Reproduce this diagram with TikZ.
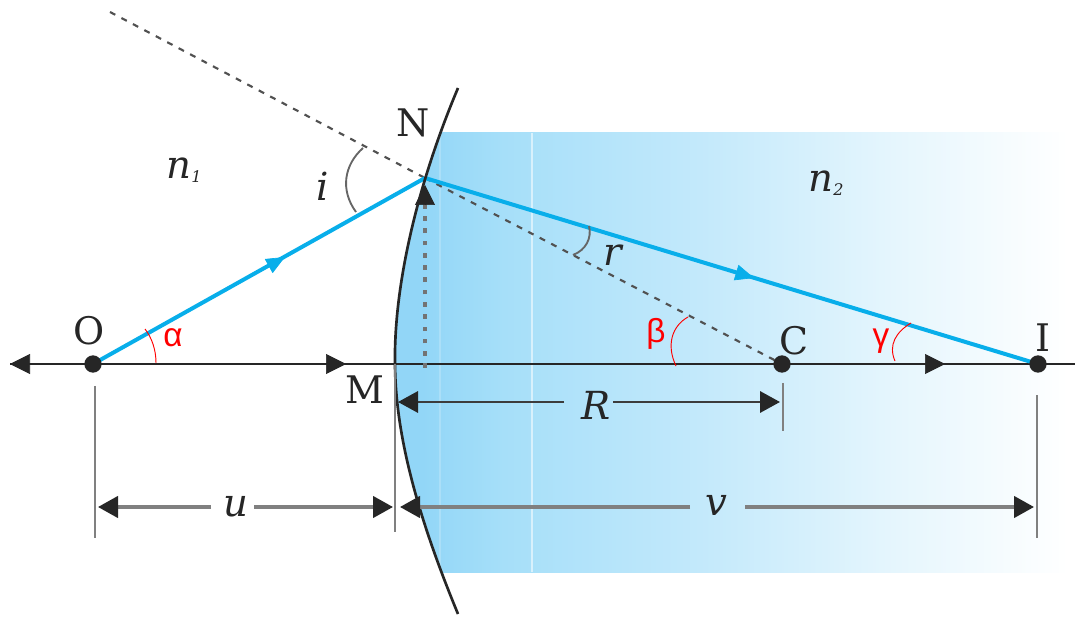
\documentclass[tikz,border=0pt]{standalone}
\usepackage{fontspec}
\usetikzlibrary{arrows.meta}
\newfontfamily\redfont{Liberation Sans}
\newfontfamily\labfont{DejaVu Serif}
\definecolor{raycol}{HTML}{08AEEA}
\definecolor{inkcol}{HTML}{262626}
\definecolor{dimcol}{HTML}{808080}
\definecolor{lensA}{HTML}{92D6F7}
\definecolor{lensB}{HTML}{A6DFF9}
\definecolor{lensC}{HTML}{C3E9FB}
\definecolor{lensD}{HTML}{E6F6FD}
\pgfdeclarehorizontalshading{lensgrad}{100bp}{
 color(0bp)=(lensA); color(25bp)=(lensA); color(27bp)=(lensA);
 color(33bp)=(lensB); color(47.4bp)=(lensC); color(62bp)=(lensD);
 color(74.5bp)=(white); color(100bp)=(white)}
\tikzset{
 axisline/.style={draw=inkcol,line width=1.9pt},
 tipped/.style={draw=inkcol,line width=.5pt,-{Triangle[length=15pt,width=15pt,color=inkcol,fill=inkcol]}},
 dimline/.style={draw=dimcol,line width=2.5pt,-{Triangle[length=15pt,width=16pt,color=inkcol,fill=inkcol]}},
 rline/.style={draw=inkcol!90,line width=1.7pt,-{Triangle[length=15pt,width=16pt,color=inkcol,fill=inkcol]}},
 ext/.style={draw=dimcol,line width=1.6pt},
 ray/.style={draw=raycol,line width=3pt},
 raytip/.style={draw=raycol,line width=.5pt,-{Triangle[length=14pt,width=12pt,color=raycol,fill=raycol]}},
 dashline/.style={draw=inkcol!80,line width=1.6pt,dash pattern=on 4.5pt off 5.2pt},
 dotline/.style={draw=dimcol!90!black,line width=3.5pt,dash pattern=on 3.5pt off 5.7pt},
 lensline/.style={draw=inkcol,line width=2pt},
 dot/.style={circle,fill=inkcol,inner sep=0pt,minimum size=13pt},
 pt/.style={inner sep=0pt,text=inkcol,font=\labfont\fontsize{28.5}{30}\selectfont},
 var/.style={inner sep=0pt,text=inkcol,font=\labfont\fontsize{29}{30}\selectfont\itshape},
 redlab/.style={inner sep=0pt,text=red,font=\redfont\fontsize{25}{25}\selectfont},
 redarc/.style={draw=red,line width=.7pt},
 grayarc/.style={draw=dimcol!80!black,line width=1.4pt},
}
\begin{document}
\begin{tikzpicture}[x=0.75pt,y=-0.75pt]
\useasboundingbox (0,0) rectangle (1075,627);
% medium
\begin{scope}
\clip (458,88) .. controls (415,190) and (394,290) .. (395,362) .. controls (395,430) and (415,510) .. (458,614) -- (1075,614) -- (1075,88) -- cycle;
\shade[shading=lensgrad] (395,133) rectangle (1075,572);
\draw[white,opacity=.55,line width=1.3pt] (532,133) -- (532,572);
\draw[white,opacity=.2,line width=1pt] (440,133) -- (440,572);
\end{scope}
\coordinate (O) at (93,364);
\coordinate (N) at (425,178);
\coordinate (C) at (782,364);
\coordinate (I) at (1038,364);
\coordinate (M) at (395,364);
\coordinate (far) at (110,12);
\coordinate (axL) at (10,364);
\coordinate (axR) at (1075,364);
\coordinate (tipA) at (346,364);
\coordinate (tipB) at (945,364);
\coordinate (rayA) at (285,257);
\coordinate (rayB) at (754,278);
\coordinate (foot) at (425,368);
\coordinate (dotEnd) at (425,204);
\coordinate (normTip) at (425,185);
% axis
\draw[axisline] (axL) -- (axR);
\draw[tipped] (O) -- (axL);
\draw[tipped] (O) -- (tipA);
\draw[tipped] (M) -- (tipB);
% construction lines
\draw[dashline] (far) -- (N);
\draw[dashline] (N) -- (C);
\draw[dotline] (foot) -- (dotEnd);
\draw[tipped] (dotEnd) -- (normTip);
% rays
\draw[ray] (O) -- (N);
\draw[raytip] (O) -- (rayA);
\draw[ray] (N) -- (I);
\draw[raytip] (N) -- (rayB);
% surface
\draw[lensline] (458,88) .. controls (415,190) and (394,290) .. (395,362) .. controls (395,430) and (415,510) .. (458,614);
% points
\node[dot] (dO) at (O) {};
\node[dot] (dC) at (C) {};
\node[dot] (dI) at (I) {};
% labels
\node[pt] (lO) at (89,331) {O};
\node[pt] (lN) at (413,123) {N};
\node[pt] (lM) at (365,390) {M};
\node[pt] (lC) at (794,341) {C};
\node[pt] (lI) at (1043,338) {I};
\node[var] (lR) at (596,405) {R};
\node[var] (lu) at (236,507) {u};
\node[var] (lv) at (716,505) {v};
\node[var] (li) at (323,186) {i};
\node[var] (lr) at (613,255) {r};
\node[var] (ln1) at (184,170) {n\raisebox{-3pt}{\fontsize{12}{12}\selectfont 1}};
\node[var] (ln2) at (826,183) {n\raisebox{-3pt}{\fontsize{12}{12}\selectfont 2}};
\node[redlab] (la) at (173,338) {α};
\node[redlab] (lb) at (656,334) {β};
\node[redlab] (lg) at (881,341) {γ};
% extension lines
\coordinate (eO1) at (95,386); \coordinate (eO2) at (95,538);
\coordinate (eM2) at (395,532);
\coordinate (eC1) at (783,383); \coordinate (eC2) at (783,431);
\coordinate (eI1) at (1037,395); \coordinate (eI2) at (1037,538);
\draw[ext] (eO1) -- (eO2);
\draw[ext] (M) -- (eM2);
\draw[ext] (eC1) -- (eC2);
\draw[ext] (eI1) -- (eI2);
% dimensions
\coordinate (uL) at (98,507); \coordinate (uR) at (393,507);
\coordinate (vL) at (400,507); \coordinate (vR) at (1034,507);
\coordinate (rL) at (398,402); \coordinate (rR) at (780,402);
\coordinate (uA) at (211,507); \coordinate (uB) at (254,507);
\coordinate (vA) at (690,507); \coordinate (vB) at (745,507);
\coordinate (rA) at (564,402); \coordinate (rB) at (613,402);
\draw[dimline] (uA) -- (uL);
\draw[dimline] (uB) -- (uR);
\draw[dimline] (vA) -- (vL);
\draw[dimline] (vB) -- (vR);
\draw[rline] (rA) -- (rL);
\draw[rline] (rB) -- (rR);
% angle arcs
\draw[grayarc] (363,148) .. controls (344,165) and (340,190) .. (356,212);
\draw[grayarc] (589,226) .. controls (592,238) and (586,250) .. (573,255);
\draw[redarc] (145,329) .. controls (152,338) and (156,350) .. (156,363);
\draw[redarc] (688,317) .. controls (672,326) and (666,345) .. (676,366);
\draw[redarc] (911,323) .. controls (896,332) and (888,345) .. (895,361);
\end{tikzpicture}
\end{document}
